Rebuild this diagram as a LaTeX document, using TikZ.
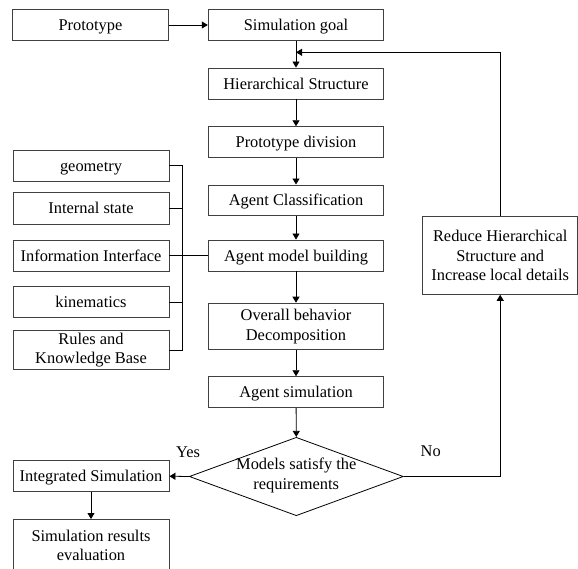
\documentclass[tikz,border=0pt]{standalone}
\usepackage{fontspec}
\setmainfont{Liberation Serif}
\usetikzlibrary{shapes.geometric,arrows.meta}
\begin{document}
\begin{tikzpicture}[x=1pt,y=-1pt,
  font=\fontsize{16.4}{19.7}\selectfont,
  line width=0.8pt,
  box/.style={draw=black!75, rectangle, inner sep=0pt, align=center, line width=0.9pt},
  one/.style={text height=14.6pt, text depth=3.5pt},
  mainbox/.style={box, minimum width=175.5pt},
  sidebox/.style={box, minimum width=156pt},
  conn/.style={draw=black, line width=0.8pt},
  arr/.style={conn, -{Triangle[length=6pt,width=7pt]}},
  lbl/.style={inner sep=0pt}]
\useasboundingbox (0,0) rectangle (578,568);
% main column
\node[sidebox, one, minimum width=155.5pt, minimum height=30.5pt] (proto) at (90.5,25) {Prototype};
\node[mainbox, one, minimum height=30.5pt] (goal) at (296,25) {Simulation goal};
\node[mainbox, one, minimum height=31pt] (hier) at (296,83.5) {Hierarchical Structure};
\node[mainbox, one, minimum height=31pt] (div) at (296,142.2) {Prototype division};
\node[mainbox, one, minimum height=30.7pt] (cls) at (296,200.3) {Agent Classification};
\node[mainbox, one, minimum height=31pt] (amb) at (296,255.5) {Agent model building};
\node[mainbox, minimum height=46.7pt] (obd) at (296,326.5) {Overall behavior\\Decomposition};
\node[mainbox, one, minimum height=31pt] (asim) at (296,392.2) {Agent simulation};
\node[draw=black, diamond, minimum width=214pt, minimum height=78.4pt, inner sep=0pt, line width=0.8pt] (dec) at (296.3,476.5) {};
\node[lbl, align=center] (dectext) at ([yshift=1pt]dec.center) {Models satisfy the\\requirements};
% side boxes
\node[sidebox, one, minimum height=31.3pt] (geo) at (91,165.7) {geometry};
\node[sidebox, one, minimum height=31.3pt] (ist) at (91,208.3) {Internal state};
\node[sidebox, one, minimum height=31pt] (ii) at (91,255.5) {Information Interface};
\node[sidebox, one, minimum height=31pt] (kin) at (91,302.2) {kinematics};
\node[sidebox, minimum height=39pt] (rkb) at (91,350) {Rules and\\Knowledge Base};
\node[box, minimum width=155pt, minimum height=77.6pt] (red) at (500.2,255.5) {Reduce Hierarchical\\Structure and\\Increase local details};
\node[sidebox, one, minimum height=31pt] (integ) at (91,476.2) {Integrated Simulation};
\node[sidebox, minimum height=52pt] (eval) at (91,545.5) {Simulation results\\evaluation};
% labels
\node[lbl, one] (yes) at (188,451.7) {Yes};
\node[lbl, one] (no) at (430.7,451) {No};
% coordinates
\coordinate (bx) at (182.7,0);
\coordinate (fb) at (500.7,52.3);
% connectors
\draw[arr] (proto) -- (goal);
\draw[arr] (goal) -- (hier);
\draw[arr] (hier) -- (div);
\draw[arr] (div) -- (cls);
\draw[arr] (cls) -- (amb);
\draw[arr] (amb) -- (obd);
\draw[arr] (obd) -- (asim);
\draw[arr] (asim) -- (dec.north);
\draw[conn] (geo.east) -| (bx |- rkb.east) -- (rkb.east);
\draw[conn] (ist.east) -- (bx |- ist.east);
\draw[conn] (kin.east) -- (bx |- kin.east);
\draw[conn] (ii.east) -- (amb.west);
\draw[arr] (red.north) -- (red.north |- fb) -- (goal.south |- fb);
\draw[arr] (dec.east) -| (red.south);
\draw[arr] (dec.west) -- (integ.east);
\draw[arr] (integ) -- (eval);
\end{tikzpicture}
\end{document}
